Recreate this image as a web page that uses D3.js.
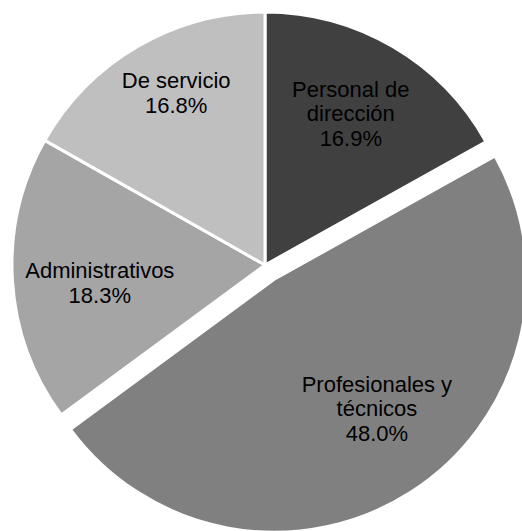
<!DOCTYPE html>
<html>
<head>
<meta charset="utf-8">
<script src="https://cdn.jsdelivr.net/npm/d3@7"></script>
<style>
  html, body { margin: 0; padding: 0; background: #fff; }
  svg { display: block; }
</style>
</head>
<body>
<svg id="chart" width="522" height="531"></svg>
<script>
// datos del gráfico
const categories = ['Personal de dirección', 'Profesionales y técnicos', 'Administrativos', 'De servicio']
const values = [16.9, 48.0, 18.3, 16.8]
const labelLines = [['Personal de', 'dirección'], ['Profesionales y', 'técnicos'], ['Administrativos'], ['De servicio']]
const colors = ['#404040', '#808080', '#a5a5a5', '#bfbfbf']
const exploded = ['Profesionales y técnicos']

const cx = 265
const cy = 265
const radius = 253
const explodeDist = 17
const lineHeight = 24.5
const capHeight = 15

// ajuste fino de las etiquetas (como Excel "mejor ajuste")
const labelNudge = {
  'Personal de dirección': [0, -5],
  'Profesionales y técnicos': [11, -13],
  'Administrativos': [4, 8],
  'De servicio': [8, -6],
}

const svg = d3.select('#chart')
const g = svg.append('g').attr('transform', `translate(${cx},${cy})`)

const pie = d3.pie().sort(null).value(d => d.value)
const arc = d3.arc().innerRadius(0).outerRadius(radius)
const data = categories.map((c, i) => ({ name: c, value: values[i], lines: labelLines[i], color: colors[i] }))
const arcs = pie(data)

function offsetOf(d) {
  if (!exploded.includes(d.data.name)) return [0, 0]
  const a = (d.startAngle + d.endAngle) / 2
  return [Math.sin(a) * explodeDist, -Math.cos(a) * explodeDist]
}

function labelFactor(d) {
  return d.data.name === 'De servicio' ? 0.76 : 0.67
}

const slices = g.selectAll('.slice')
  .data(arcs)
  .enter()
  .append('g')
  .attr('class', 'slice')
  .attr('transform', d => `translate(${offsetOf(d)})`)

slices.append('path')
  .attr('d', arc)
  .attr('fill', d => d.data.color)
  .attr('stroke', '#fff')
  .attr('stroke-width', 3)
  .attr('stroke-linejoin', 'round')

slices.each(function (d) {
  const a = (d.startAngle + d.endAngle) / 2
  const r = radius * labelFactor(d)
  const nudge = labelNudge[d.data.name] || [0, 0]
  const x = Math.sin(a) * r + nudge[0]
  const yc = -Math.cos(a) * r + nudge[1]
  const n = d.data.lines.length + 1
  const y0 = yc - ((n - 1) * lineHeight - capHeight) / 2
  const text = d3.select(this).append('text')
    .attr('text-anchor', 'middle')
    .attr('font-family', '"Liberation Sans", Arial, sans-serif')
    .attr('font-size', 22)
    .attr('fill', '#000')
  const lines = d.data.lines.concat([`${d.data.value.toFixed(1)}%`])
  lines.forEach((t, i) => {
    text.append('tspan')
      .attr('x', x)
      .attr('y', y0 + i * lineHeight)
      .text(t)
  })
})
</script>
</body>
</html>
